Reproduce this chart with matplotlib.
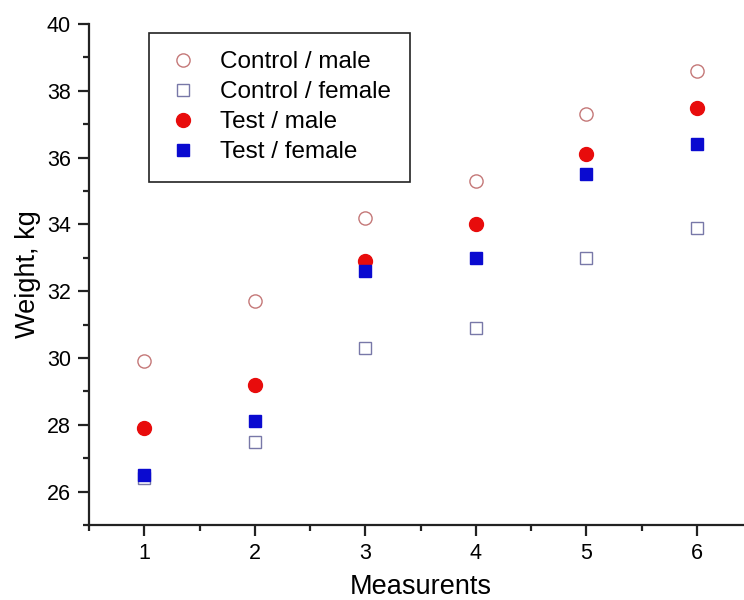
import matplotlib
matplotlib.use('Agg')
import matplotlib.pyplot as plt
from matplotlib.ticker import MultipleLocator

plt.rcParams['font.family'] = ['Liberation Sans', 'DejaVu Sans']

measurements = [1, 2, 3, 4, 5, 6]
control_male = [29.9, 31.7, 34.2, 35.3, 37.3, 38.6]
control_female = [26.4, 27.5, 30.3, 30.9, 33.0, 33.9]
test_male = [27.9, 29.2, 32.9, 34.0, 36.1, 37.5]
test_female = [26.5, 28.1, 32.6, 33.0, 35.5, 36.4]

fig = plt.figure(figsize=(7.44, 6), dpi=100)
ax = fig.add_axes([89/744, 75/600, 663/744, 501/600])

ax.plot(measurements, control_male, 'o', ms=9.5, mfc='white', mec='#c47878', mew=1.0,
        label='Control / male', linestyle='none')
ax.plot(measurements, control_female, 's', ms=8.5, mfc='white', mec='#7878a8', mew=1.0,
        label='Control / female', linestyle='none')
ax.plot(measurements, test_male, 'o', ms=10, mfc='#e80c0c', mec='#e80c0c',
        label='Test / male', linestyle='none')
ax.plot(measurements, test_female, 's', ms=8.5, mfc='#0a0ad0', mec='#0a0ad0',
        label='Test / female', linestyle='none')

ax.set_xlim(0.5, 6.5)
ax.set_ylim(25, 40)
ax.xaxis.set_major_locator(MultipleLocator(1))
ax.xaxis.set_minor_locator(MultipleLocator(0.5))
ax.yaxis.set_major_locator(MultipleLocator(2))
ax.yaxis.set_minor_locator(MultipleLocator(1))

for s in ['top', 'right']:
    ax.spines[s].set_visible(False)
for s in ['left', 'bottom']:
    ax.spines[s].set_linewidth(1.6)
    ax.spines[s].set_color('#222222')

ax.tick_params(which='major', direction='out', length=8, width=1.6, labelsize=15.5, pad=5, color='#222222')
ax.tick_params(which='minor', direction='out', length=4, width=1.6, color='#222222')
ax.set_yticks([26, 28, 30, 32, 34, 36, 38, 40])

ax.set_xlabel('Measurents', fontsize=19.5, labelpad=7)
ax.set_ylabel('Weight, kg', fontsize=19.5, labelpad=4)

leg = ax.legend(loc='upper left', bbox_to_anchor=(0.09, 0.982), fontsize=17.5,
                frameon=True, fancybox=False, edgecolor='#222222', framealpha=1,
                borderpad=0.75, labelspacing=0.33, handletextpad=0.9, handlelength=1.3,
                borderaxespad=0)
leg.get_frame().set_linewidth(1.2)

fig.savefig('out.png', dpi=100)
